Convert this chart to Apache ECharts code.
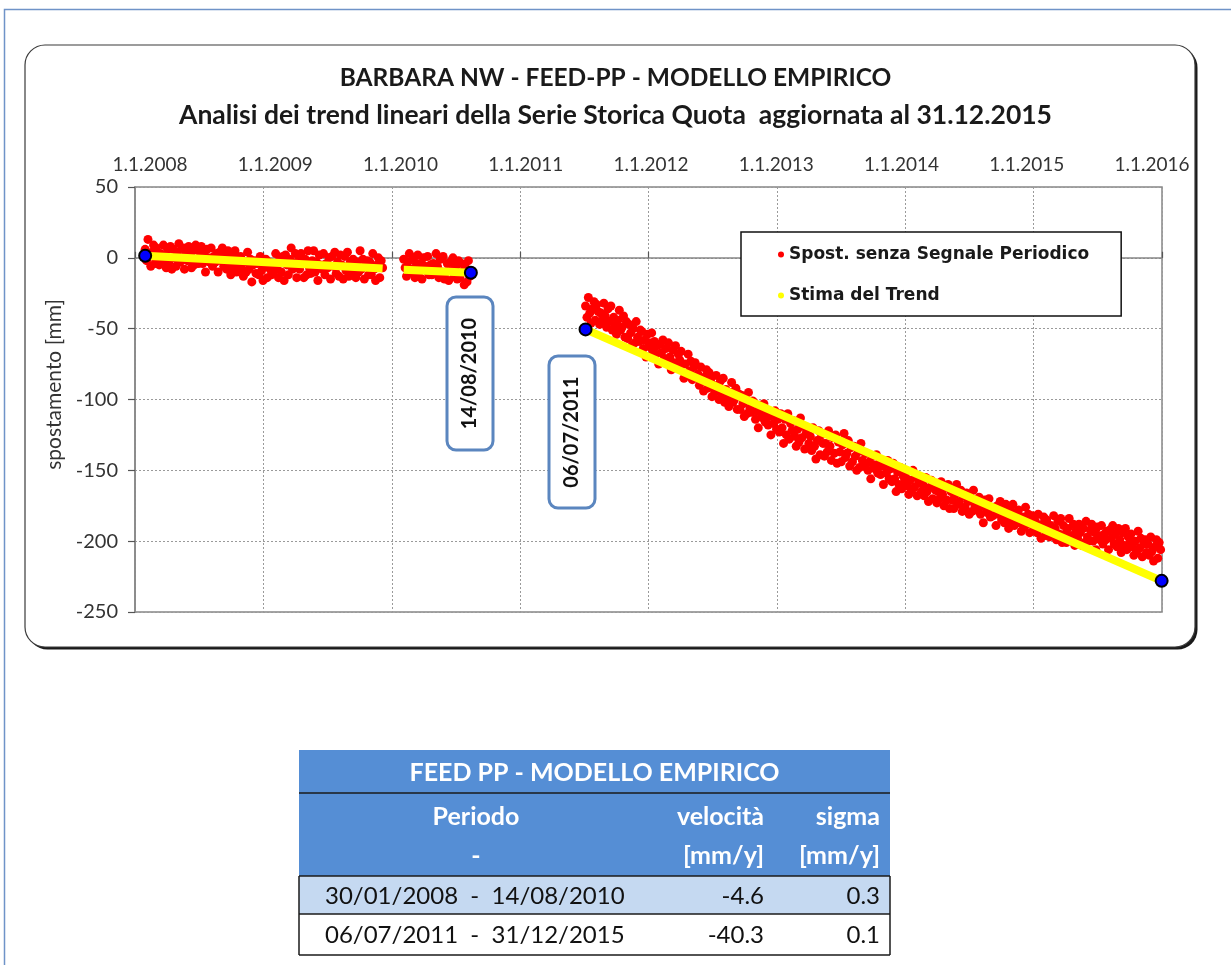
<!DOCTYPE html>
<html>
<head>
<meta charset="utf-8">
<script src="https://cdn.jsdelivr.net/npm/echarts@6/dist/echarts.min.js"></script>
<style>
  html, body { margin: 0; padding: 0; background: #fff; }
  #chart { width: 1231px; height: 965px; }
</style>
</head>
<body>
<div id="chart"></div>
<script>
// ---- texts ----
const titleLines = [
  'BARBARA NW - FEED-PP - MODELLO EMPIRICO',
  'Analisi dei trend lineari della Serie Storica Quota  aggiornata al 31.12.2015'
];
const yAxisName = 'spostamento [mm]';
const seriesNames = ['Spost. senza Segnale Periodico', 'Stima del Trend'];

// ---- axes ----
const xTickYears = [2008, 2009, 2010, 2011, 2012, 2013, 2014, 2015, 2016];
const yTicks = [50, 0, -50, -100, -150, -200, -250];

// ---- displacement without periodic signal (mm), one sample every 4 days ----
const sampleStepDays = 4;

const block1Start = '2008-01-30';
const block1Values = [
  6, -2, 13, 1, -6, 4, 9, -4, 7, 2,
  -5, 3, -2, 9, 1, -7, 6, -3, 8, -8,
  6, 0, -6, 4, 10, -3, -1, 7, -8, 3,
  -2, 8, 2, -7, 5, -5, 9, -1, -4, 4,
  8, -4, 2, -10, 6, 0, -3, 7, -6, 1,
  -3, 3, -10, 4, -2, 7, -6, 1, -8, 5,
  -3, -12, 2, -7, 5, -10, -1, -5, 1, -8,
  -13, -3, -10, 4, -8, -1, -17, -5, -2, -11,
  -4, -12, 1, -9, -16, -6, -1, -14, -3, -8,
  -12, -4, -9, 3, -6, -14, -1, -10, 1, -16,
  2, -5, -12, -1, 7, -8, -6, 3, -14, -2,
  -8, 3, -4, -14, -1, -12, 5, -7, -11, -2,
  5, -10, -3, -16, 2, -5, -8, 3, -12, -4,
  -7, 0, -15, 1, -6, 4, -11, -3, -13, 2,
  -5, -15, 1, -9, 4, -13, -3, -7, -1, -11,
  -14, -3, -10, 5, -8, -1, -15, -5, -2, -12,
  -3, -12, 3, -8, -16, -5, 0, -14, -2, -7
];

const block2Start = '2010-02-04';
const block2Values = [
  -1, -7, -13, -3, 3, -10, -8, 0, -14, -4,
  2, -10, -4, -15, 0, -6, -9, 1, -12, -5,
  -12, -4, -9, 3, -6, -14, -1, -10, 1, -15,
  -10, -4, -16, -3, -9, 0, -13, -6, -15, -2,
  -14, -4, -10, -19, -7, -17, -2, -13
];

const block3Start = '2011-07-06';
const block3Values = [
  -34, -42, -28, -39, -46, -36, -31, -44, -33, -38,
  -47, -39, -44, -32, -41, -49, -36, -45, -34, -51,
  -42, -48, -54, -44, -37, -51, -49, -41, -56, -45,
  -57, -47, -53, -62, -50, -60, -45, -56, -59, -51,
  -52, -64, -58, -70, -54, -60, -63, -53, -66, -59,
  -68, -62, -75, -61, -67, -58, -71, -64, -73, -60,
  -70, -79, -65, -74, -62, -77, -68, -72, -66, -75,
  -85, -75, -82, -68, -80, -73, -86, -77, -74, -83,
  -82, -90, -77, -87, -94, -84, -79, -92, -81, -86,
  -98, -90, -95, -83, -92, -100, -87, -96, -85, -102,
  -93, -99, -105, -95, -88, -102, -100, -92, -107, -96,
  -107, -97, -103, -112, -100, -110, -95, -106, -109, -101,
  -102, -114, -108, -120, -104, -110, -113, -103, -116, -109,
  -118, -112, -125, -111, -117, -108, -121, -114, -123, -110,
  -120, -131, -114, -125, -110, -128, -117, -122, -115, -126,
  -133, -121, -130, -113, -127, -119, -135, -124, -120, -131,
  -126, -136, -120, -133, -142, -129, -122, -139, -125, -131,
  -140, -131, -137, -122, -133, -143, -127, -138, -125, -145,
  -130, -137, -144, -132, -124, -141, -138, -129, -147, -134,
  -144, -133, -140, -150, -137, -148, -131, -143, -147, -138,
  -138, -150, -144, -156, -140, -146, -149, -139, -152, -145,
  -153, -147, -160, -146, -152, -143, -156, -149, -158, -145,
  -156, -165, -151, -160, -148, -163, -154, -158, -152, -161,
  -167, -157, -164, -150, -162, -155, -168, -159, -156, -165,
  -160, -168, -155, -165, -172, -162, -157, -170, -159, -164,
  -173, -165, -170, -158, -167, -175, -162, -171, -160, -177,
  -165, -171, -177, -167, -160, -174, -172, -164, -179, -168,
  -176, -166, -172, -181, -169, -179, -164, -175, -178, -170,
  -169, -181, -175, -187, -171, -177, -180, -170, -183, -176,
  -182, -176, -189, -175, -181, -172, -185, -178, -187, -174,
  -182, -191, -177, -186, -174, -189, -180, -184, -178, -187,
  -193, -183, -190, -176, -188, -181, -194, -185, -182, -191,
  -186, -194, -181, -191, -198, -188, -183, -196, -185, -190,
  -197, -189, -194, -182, -191, -199, -186, -195, -184, -201,
  -189, -195, -201, -191, -184, -198, -196, -188, -203, -192,
  -198, -188, -194, -203, -191, -201, -186, -197, -200, -192,
  -188, -200, -194, -206, -190, -196, -199, -189, -202, -195,
  -199, -193, -206, -192, -198, -189, -202, -195, -204, -191,
  -199, -208, -194, -203, -191, -206, -197, -201, -195, -204,
  -210, -200, -207, -193, -205, -198, -211, -202, -199, -208,
  -202, -210, -197, -207, -214, -204, -199, -212, -201, -206
];

// ---- linear trend estimates, end points [date, mm] ----
const trendA = [['2008-01-30', 1.5], ['2009-12-06', -7.6]];
const trendB = [['2010-02-04', -8.4], ['2010-08-14', -10.5]];
const trendC = [['2011-07-06', -50.5], ['2015-12-31', -228]];

// period boundaries
const breakPoints = [['2008-01-30', 1.5], ['2010-08-14', -10.5], ['2011-07-06', -50.5], ['2015-12-31', -228]];
const calloutLabels = ['14/08/2010', '06/07/2011'];

// ---- summary table ----
const tableTitle = 'FEED PP - MODELLO EMPIRICO';
const tableHead1 = ['Periodo', 'velocità', 'sigma'];
const tableHead2 = ['-', '[mm/y]', '[mm/y]'];
const tablePeriods = ['30/01/2008  -  14/08/2010', '06/07/2011  -  31/12/2015'];
const tableVelocity = ['-4.6', '-40.3'];
const tableSigma = ['0.3', '0.1'];

// ---- helpers ----
const DAY = 86400000;
function parseDate(s) {
  const p = s.split('-').map(Number);
  return Date.UTC(p[0], p[1] - 1, p[2]);
}
function decimalYear(t) {
  const y = new Date(t).getUTCFullYear();
  const a = Date.UTC(y, 0, 1), b = Date.UTC(y + 1, 0, 1);
  return y + (t - a) / (b - a);
}
function sampleSeries(start, values) {
  const t0 = parseDate(start);
  return values.map((v, i) => [decimalYear(t0 + i * sampleStepDays * DAY), v]);
}
function datedPoints(list) {
  return list.map(p => [decimalYear(parseDate(p[0])), p[1]]);
}

const scatterData = []
  .concat(sampleSeries(block1Start, block1Values))
  .concat(sampleSeries(block2Start, block2Values))
  .concat(sampleSeries(block3Start, block3Values));

const LATO = 'Lato, "Open Sans", sans-serif';
const AXIS_GREY = '#868686';
const GRID_GREY = '#9a9a9a';

// tick label placement along the top axis
const firstYear = xTickYears[0];
const richLabels = {};
xTickYears.forEach((yr, k) => {
  const o = 15 - 3.125 * k;
  richLabels['t' + k] = {
    fontFamily: LATO, fontSize: 19, color: '#333',
    padding: o >= 0 ? [0, 0, 0, 2 * o] : [0, -2 * o, 0, 0]
  };
});

function trendSeries(points) {
  return {
    name: seriesNames[1], type: 'line', data: datedPoints(points),
    showSymbol: false, symbol: 'circle', z: 3,
    lineStyle: { color: '#ffff00', width: 8, cap: 'butt' },
    itemStyle: { color: '#ffff00' }
  };
}

// ---- decorations: frames, callouts, summary table ----
const graphics = [];
// outer page frame
graphics.push({ type: 'polyline', z: -20, shape: { points: [[4.5, 965], [4.5, 9.5], [1231, 9.5]] },
  style: { stroke: '#6f93c8', lineWidth: 1.5, fill: null } });
// chart frame with shadow
graphics.push({ type: 'rect', z: -12, shape: { x: 27.5, y: 47.5, width: 1170, height: 602, r: 20 },
  style: { fill: '#1a1a1a' } });
graphics.push({ type: 'rect', z: -11, shape: { x: 25, y: 45, width: 1170, height: 602, r: 20 },
  style: { fill: '#fff', stroke: '#3a3a3a', lineWidth: 1.2 } });

// date callouts
const calloutBoxes = [
  { x: 447, y: 297, w: 46, h: 153 },
  { x: 549, y: 356, w: 46, h: 152 }
];
calloutBoxes.forEach((b, i) => {
  graphics.push({ type: 'rect', z: 50, shape: { x: b.x, y: b.y, width: b.w, height: b.h, r: 9 },
    style: { fill: '#fff', stroke: '#5b86bf', lineWidth: 3 } });
  graphics.push({ type: 'text', z: 51, x: b.x + b.w / 2, y: b.y + b.h / 2, rotation: Math.PI / 2,
    style: { text: calloutLabels[i], fontFamily: LATO, fontWeight: 'bold', fontSize: 20,
      fill: '#111', align: 'center', verticalAlign: 'middle' } });
});

// summary table
const TX0 = 299, TX1 = 890;
const rowY = [750, 793, 876, 914, 955];
graphics.push({ type: 'rect', z: 40, shape: { x: TX0, y: rowY[0], width: TX1 - TX0, height: rowY[2] - rowY[0] },
  style: { fill: '#558ed5' } });
graphics.push({ type: 'rect', z: 40, shape: { x: TX0, y: rowY[2], width: TX1 - TX0, height: rowY[3] - rowY[2] },
  style: { fill: '#c5d9f1' } });
[rowY[1], rowY[2], rowY[3], rowY[4]].forEach(y => {
  graphics.push({ type: 'line', z: 41, shape: { x1: TX0, y1: y, x2: TX1, y2: y },
    style: { stroke: '#1a1a1a', lineWidth: 1.5 } });
});
[TX0, TX1].forEach(x => {
  graphics.push({ type: 'line', z: 41, shape: { x1: x, y1: rowY[2], x2: x, y2: rowY[4] },
    style: { stroke: '#1a1a1a', lineWidth: 1.5 } });
});
function tText(text, x, y, align, opts) {
  graphics.push({ type: 'text', z: 42, x: x, y: y,
    style: Object.assign({ text: text, fontFamily: LATO, fontSize: 24, fill: '#111',
      align: align, verticalAlign: 'middle' }, opts || {}) });
}
const headStyle = { fill: '#fff', fontWeight: 'bold', fontSize: 25 };
tText(tableTitle, (TX0 + TX1) / 2, 773, 'center', headStyle);
const colX = [476, 764, 880];
const colAlign = ['center', 'right', 'right'];
tableHead1.forEach((t, i) => tText(t, colX[i], 817, colAlign[i], headStyle));
tableHead2.forEach((t, i) => tText(t, colX[i], 856, colAlign[i], headStyle));
tablePeriods.forEach((t, r) => {
  const y = r === 0 ? 896 : 935;
  tText(t, 325, y, 'left');
  tText(tableVelocity[r], colX[1], y, 'right');
  tText(tableSigma[r], colX[2], y, 'right');
});

const option = {
  animation: false,
  backgroundColor: '#fff',
  title: {
    text: '{a|' + titleLines[0] + '}\n{b|' + titleLines[1] + '}',
    left: 'center', top: 60, padding: [0, 11, 0, 0],
    textStyle: {
      rich: {
        a: { fontFamily: LATO, fontWeight: 'bold', fontSize: 24.5, lineHeight: 37, color: '#1a1a1a' },
        b: { fontFamily: LATO, fontWeight: 'bold', fontSize: 26.5, lineHeight: 37, color: '#1a1a1a' }
      }
    }
  },
  legend: {
    orient: 'vertical', left: 741, top: 232,
    backgroundColor: '#fff', borderColor: '#111', borderWidth: 1.5,
    padding: [14, 32, 12, 37], itemWidth: 6, itemHeight: 6, itemGap: 24,
    textStyle: { fontFamily: '"DejaVu Sans", sans-serif', fontWeight: 'bold', fontSize: 17, color: '#1a1a1a' },
    data: [{ name: seriesNames[0], icon: 'circle' }, { name: seriesNames[1], icon: 'circle' }],
    z: 20
  },
  grid: {
    left: 135, top: 187, width: 1027, height: 425,
    show: true, borderColor: AXIS_GREY, borderWidth: 1.5, backgroundColor: 'transparent'
  },
  xAxis: {
    type: 'value', position: 'top',
    min: xTickYears[0], max: xTickYears[xTickYears.length - 1], interval: 1,
    axisLine: { show: true, lineStyle: { color: AXIS_GREY, width: 1.5 } },
    axisTick: { show: true, inside: false, length: 6, lineStyle: { color: '#555', width: 1.2 } },
    splitLine: { show: true, lineStyle: { color: GRID_GREY, type: [2, 2], width: 1 } },
    axisLabel: {
      margin: 13, showMinLabel: true, showMaxLabel: true,
      formatter: v => { const k = Math.round(v - firstYear); return '{t' + k + '|1.1.' + Math.round(v) + '}'; },
      rich: richLabels
    }
  },
  yAxis: {
    type: 'value', min: yTicks[yTicks.length - 1], max: yTicks[0], interval: 50,
    name: yAxisName, nameLocation: 'middle', nameGap: 57, nameRotate: 90,
    nameTextStyle: { fontFamily: LATO, fontSize: 21, color: '#333', padding: [0, 0, 0, 30] },
    axisLine: { show: true, lineStyle: { color: AXIS_GREY, width: 1.5 } },
    axisTick: { show: true, inside: false, length: 7, lineStyle: { color: '#555', width: 1.2 } },
    splitLine: { show: true, lineStyle: { color: GRID_GREY, type: [2, 2], width: 1 } },
    axisLabel: { margin: 17, fontFamily: LATO, fontSize: 20, color: '#333' }
  },
  series: [
    {
      name: seriesNames[0], type: 'scatter', data: scatterData,
      symbol: 'circle', symbolSize: 9, z: 2,
      itemStyle: { color: '#ff0000', opacity: 1 }
    },
    trendSeries(trendA),
    trendSeries(trendB),
    trendSeries(trendC),
    {
      name: 'breaks', type: 'scatter', data: datedPoints(breakPoints),
      symbol: 'circle', symbolSize: 12, z: 4,
      itemStyle: { color: '#0000ff', borderColor: '#000', borderWidth: 2, opacity: 1 }
    }
  ],
  graphic: graphics
};

const chart = echarts.init(document.getElementById('chart'));
chart.setOption(option);
</script>
</body>
</html>
